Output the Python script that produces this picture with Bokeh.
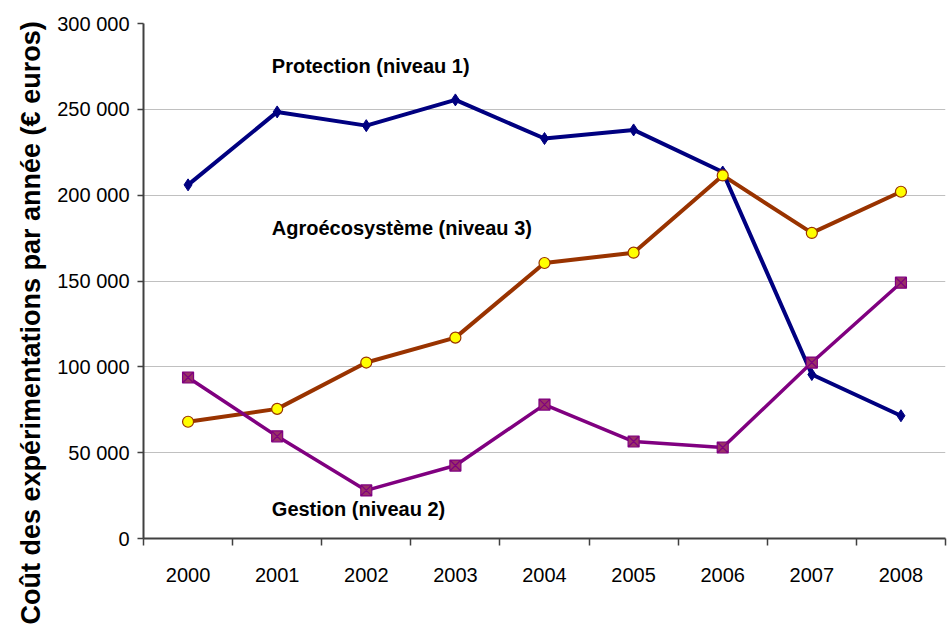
import math
from bokeh.plotting import figure
from bokeh.models import Range1d, FixedTicker, Label, Title
from bokeh.embed import file_html
from bokeh.resources import INLINE

years = ["2000", "2001", "2002", "2003", "2004", "2005", "2006", "2007", "2008"]
protection = [206000, 248500, 240500, 255500, 233000, 238000, 213500, 95500, 71500]
agro = [68000, 75500, 102500, 117000, 160500, 166500, 211500, 178000, 202000]
gestion = [93800, 59500, 28000, 42500, 78000, 56500, 53000, 102500, 149000]
y_ticks = [0, 50000, 100000, 150000, 200000, 250000, 300000]
y_tick_labels = ["0", "50 000", "100 000", "150 000", "200 000", "250 000", "300 000"]
series_names = ["Protection (niveau 1)", "Agroécosystème (niveau 3)", "Gestion (niveau 2)"]
y_title = "Coût des expérimentations par année (€ euros)"

xs = [i + 0.5 for i in range(len(years))]
FONT = "Liberation Sans"

p = figure(width=947, height=636, output_backend="svg", toolbar_location=None,
           x_range=Range1d(0, len(years)), y_range=Range1d(0, 300000),
           min_border_left=143, min_border_right=2, min_border_top=23, min_border_bottom=98)
p.outline_line_color = None
p.background_fill_color = "white"
p.border_fill_color = "white"

# x axis
p.xaxis.ticker = FixedTicker(ticks=xs, minor_ticks=list(range(len(years) + 1)))
p.xaxis.major_label_overrides = {x: y for x, y in zip(xs, years)}
p.xaxis.major_tick_out = 0
p.xaxis.major_tick_in = 0
p.xaxis.minor_tick_out = 7
p.xaxis.minor_tick_in = 0
p.xaxis.minor_tick_line_color = "#404040"
p.xaxis.minor_tick_line_width = 1.5
p.xaxis.major_label_standoff = 22
p.xgrid.grid_line_color = None

# y axis
p.yaxis.ticker = FixedTicker(ticks=y_ticks, minor_ticks=[])
p.yaxis.major_label_overrides = {t: l for t, l in zip(y_ticks, y_tick_labels)}
p.yaxis.major_tick_out = 6
p.yaxis.major_tick_in = 0
p.yaxis.major_label_standoff = 8
p.ygrid.grid_line_color = "#c0c0c0"
p.ygrid.grid_line_width = 1

for ax in (p.xaxis, p.yaxis):
    ax.axis_line_color = "#404040"
    ax.axis_line_width = 2
    ax.major_tick_line_color = "#404040"
    ax.major_tick_line_width = 1.5
    ax.major_label_text_font = FONT
    ax.major_label_text_font_size = "20px"
    ax.major_label_text_color = "black"

# series
p.line(xs, agro, line_color="#993300", line_width=4)
p.line(xs, gestion, line_color="#800080", line_width=3.5)
p.line(xs, protection, line_color="#000080", line_width=4)

p.scatter(xs, protection, marker="diamond", size=12, fill_color="#000080", line_color="#000080")
p.scatter(xs, agro, marker="circle", size=11, fill_color="#ffff00", line_color="#993300", line_width=1.2)
p.scatter(xs, gestion, marker="square_x", size=11, fill_color="#993366", line_color="#800080", line_width=1.2)

# annotations
label_pos = [(1.44, 275500), (1.44, 181000), (1.44, 17000)]
for name, (lx, ly) in zip(series_names, label_pos):
    p.add_layout(Label(x=lx, y=ly, text=name, text_font=FONT, text_font_size="20px",
                       text_font_style="bold", text_align="left", text_baseline="middle",
                       text_color="black"))

p.add_layout(Title(text=y_title, align="left", offset=-86,
                   text_font=FONT, text_font_size="27px", text_font_style="bold",
                   text_color="black", standoff=18), "left")

open("out.html", "w").write(file_html(p, INLINE))
